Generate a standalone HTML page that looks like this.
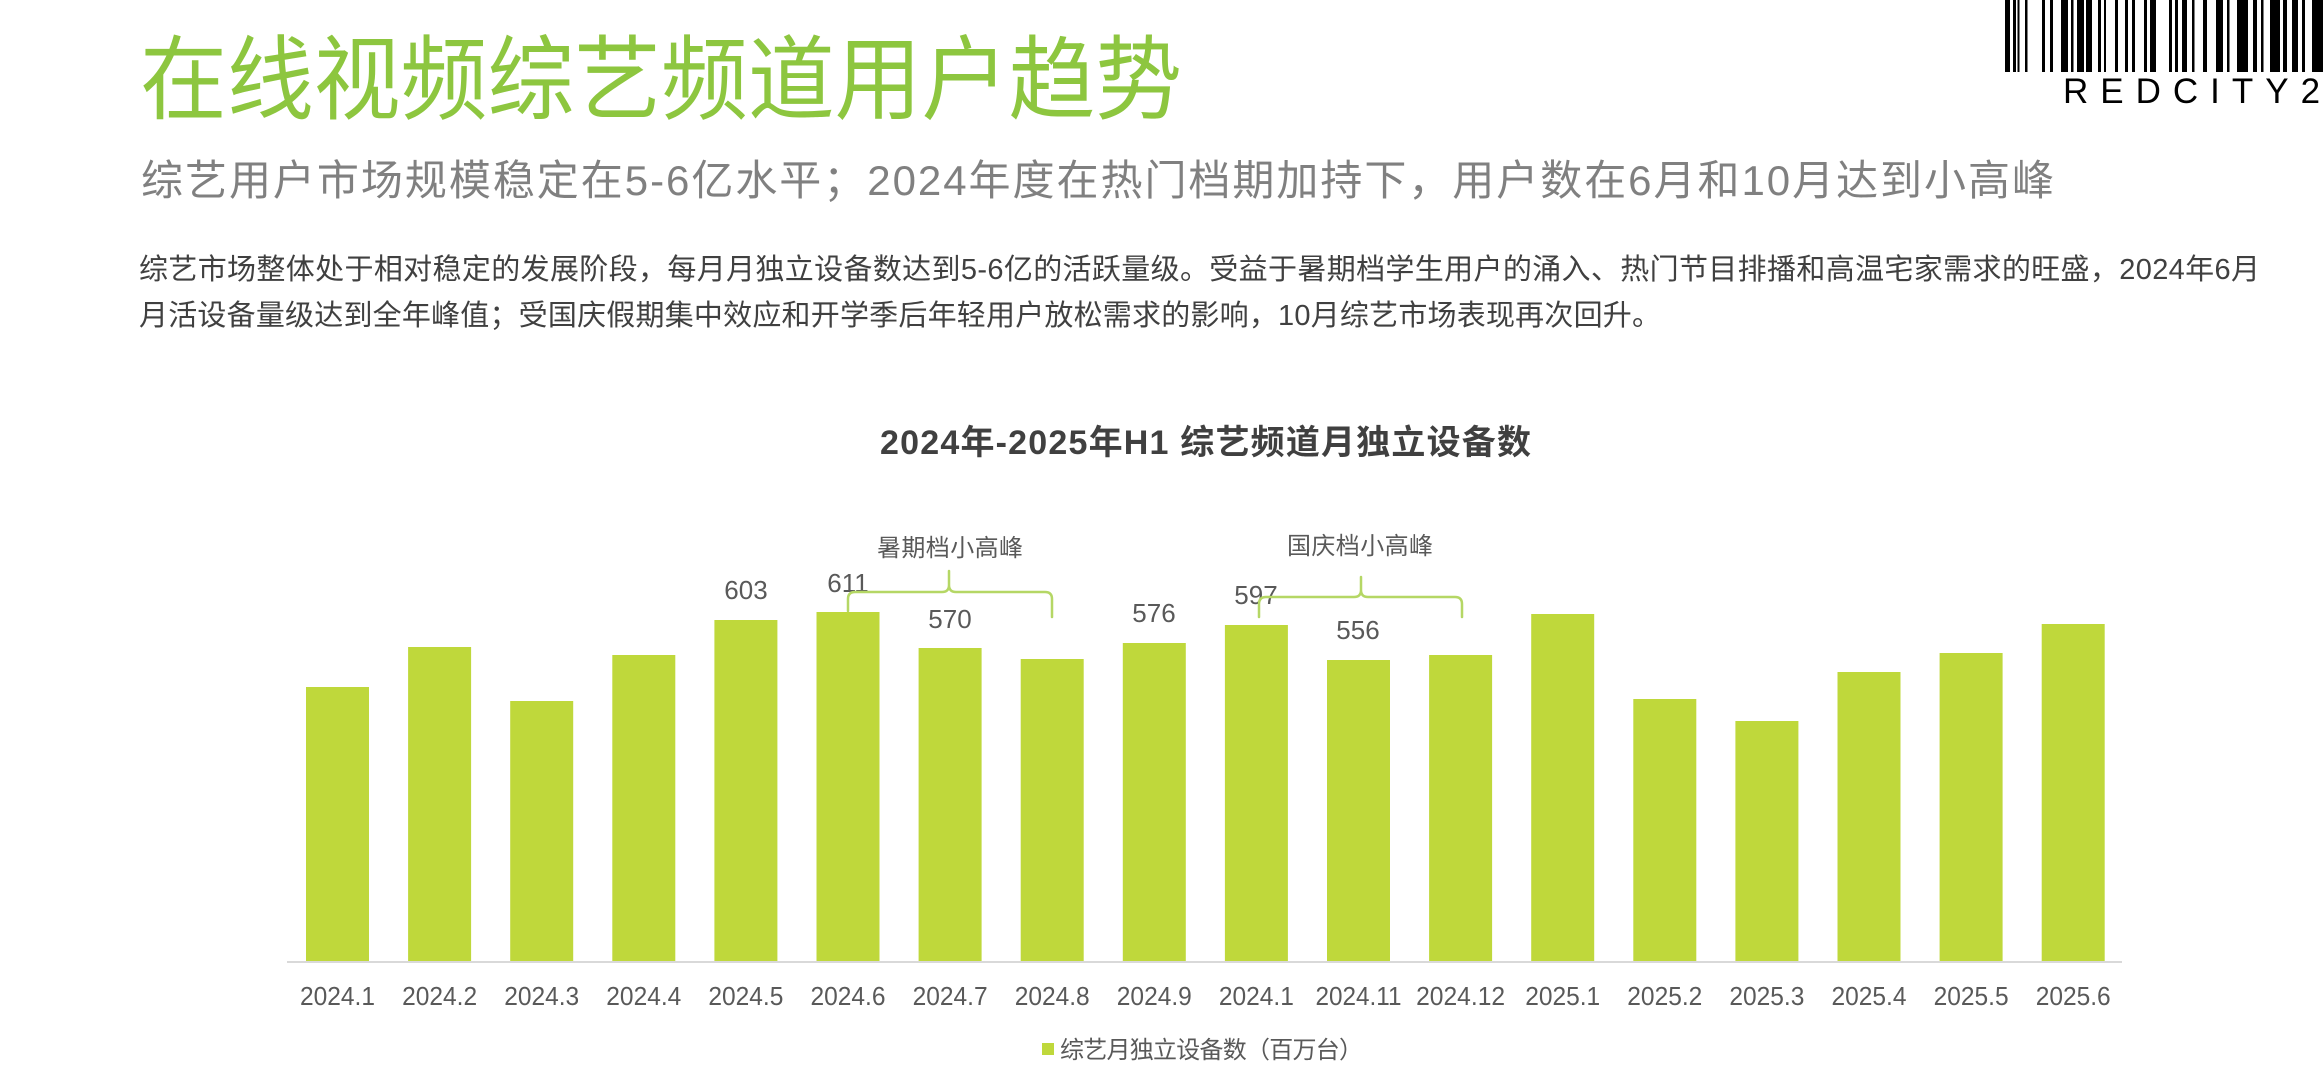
<!DOCTYPE html>
<html>
<head>
<meta charset="utf-8">
<style>
  html, body { margin: 0; padding: 0; background: #ffffff; }
  body { width: 2323px; height: 1080px; overflow: hidden; }
  svg { display: block; }
  .cjk { font-family: "Liberation Sans", "Noto Sans CJK SC", sans-serif; }
</style>
</head>
<body>
<svg width="2323" height="1080" viewBox="0 0 2323 1080" xmlns="http://www.w3.org/2000/svg">
  <rect x="0" y="0" width="2323" height="1080" fill="#ffffff"/>

  <!-- Title -->
  <text class="cjk" x="140" y="112" font-size="92" fill="#8DC63F" textLength="1042" lengthAdjust="spacingAndGlyphs">在线视频综艺频道用户趋势</text>

  <!-- Subtitle -->
  <text class="cjk" x="141" y="195" font-size="42" fill="#808080" textLength="1913" lengthAdjust="spacing">综艺用户市场规模稳定在5-6亿水平；2024年度在热门档期加持下，用户数在6月和10月达到小高峰</text>

  <!-- Body -->
  <text class="cjk" x="139" y="279" font-size="29" fill="#404040" textLength="2121" lengthAdjust="spacing">综艺市场整体处于相对稳定的发展阶段，每月月独立设备数达到5-6亿的活跃量级。受益于暑期档学生用户的涌入、热门节目排播和高温宅家需求的旺盛，2024年6月</text>
  <text class="cjk" x="139" y="325" font-size="29" fill="#404040" textLength="1522" lengthAdjust="spacing">月活设备量级达到全年峰值；受国庆假期集中效应和开学季后年轻用户放松需求的影响，10月综艺市场表现再次回升。</text>

  <!-- Barcode -->
  <g fill="#000000">
    <rect x="2005" y="0" width="5" height="72"/>
    <rect x="2013" y="0" width="3" height="72"/>
    <rect x="2017.5" y="0" width="2" height="72"/>
    <rect x="2025" y="0" width="2.5" height="72"/>
    <rect x="2042" y="0" width="3" height="72"/>
    <rect x="2050" y="0" width="3" height="72"/>
    <rect x="2061" y="0" width="7" height="72"/>
    <rect x="2071" y="0" width="2.5" height="72"/>
    <rect x="2077" y="0" width="7" height="72"/>
    <rect x="2086" y="0" width="6" height="72"/>
    <rect x="2098" y="0" width="3" height="72"/>
    <rect x="2104" y="0" width="2" height="72"/>
    <rect x="2115" y="0" width="3" height="72"/>
    <rect x="2125" y="0" width="3" height="72"/>
    <rect x="2132" y="0" width="3" height="72"/>
    <rect x="2144" y="0" width="3" height="72"/>
    <rect x="2150" y="0" width="6" height="72"/>
    <rect x="2169" y="0" width="3" height="72"/>
    <rect x="2175" y="0" width="3" height="72"/>
    <rect x="2182" y="0" width="5" height="72"/>
    <rect x="2192" y="0" width="2.5" height="72"/>
    <rect x="2203" y="0" width="4" height="72"/>
    <rect x="2216" y="0" width="7" height="72"/>
    <rect x="2227" y="0" width="2.5" height="72"/>
    <rect x="2237" y="0" width="11" height="72"/>
    <rect x="2253" y="0" width="4" height="72"/>
    <rect x="2261" y="0" width="2.5" height="72"/>
    <rect x="2270" y="0" width="10" height="72"/>
    <rect x="2283" y="0" width="4" height="72"/>
    <rect x="2292" y="0" width="6" height="72"/>
    <rect x="2302" y="0" width="3" height="72"/>
    <rect x="2312" y="0" width="11" height="72"/>
  </g>
  <text x="2063" y="103" font-family="Liberation Sans, sans-serif" font-size="35" fill="#000000" letter-spacing="12">REDCITY2</text>

  <!-- Chart title -->
  <text class="cjk" x="880" y="454" font-size="34" font-weight="bold" fill="#404040" textLength="651" lengthAdjust="spacing">2024年-2025年H1 综艺频道月独立设备数</text>

  <!-- Bars -->
  <g fill="#BFD83B">
    <rect x="306.0" y="687" width="63" height="274"/>
    <rect x="408.1" y="647" width="63" height="314"/>
    <rect x="510.2" y="701" width="63" height="260"/>
    <rect x="612.3" y="655" width="63" height="306"/>
    <rect x="714.4" y="620" width="63" height="341"/>
    <rect x="816.5" y="612" width="63" height="349"/>
    <rect x="918.6" y="648" width="63" height="313"/>
    <rect x="1020.7" y="659" width="63" height="302"/>
    <rect x="1122.8" y="643" width="63" height="318"/>
    <rect x="1224.9" y="625" width="63" height="336"/>
    <rect x="1327.0" y="660" width="63" height="301"/>
    <rect x="1429.1" y="655" width="63" height="306"/>
    <rect x="1531.2" y="614" width="63" height="347"/>
    <rect x="1633.3" y="699" width="63" height="262"/>
    <rect x="1735.4" y="721" width="63" height="240"/>
    <rect x="1837.5" y="672" width="63" height="289"/>
    <rect x="1939.6" y="653" width="63" height="308"/>
    <rect x="2041.7" y="624" width="63" height="337"/>
  </g>

  <!-- Axis line -->
  <line x1="287" y1="962" x2="2122" y2="962" stroke="#D9D9D9" stroke-width="2"/>

  <!-- Value labels -->
  <g font-family="Liberation Sans, sans-serif" font-size="26" fill="#595959" text-anchor="middle">
    <text x="746" y="599">603</text>
    <text x="848" y="592">611</text>
    <text x="950" y="628">570</text>
    <text x="1154" y="622">576</text>
    <text x="1256" y="604">597</text>
    <text x="1358" y="639">556</text>
  </g>

  <!-- Annotation brackets -->
  <g fill="none" stroke="#B5D765" stroke-width="2.5" stroke-linecap="round" stroke-linejoin="round">
    <path d="M848,611 L848,599 Q848,592 855,592 L942,592 Q949,592 949,585 L949,571 M949,585 Q949,592 956,592 L1045,592 Q1052,592 1052,599 L1052,617"/>
    <path d="M1259,617 L1259,604 Q1259,597 1266,597 L1354,597 Q1361,597 1361,590 L1361,577 M1361,590 Q1361,597 1368,597 L1455,597 Q1462,597 1462,604 L1462,617"/>
  </g>
  <text class="cjk" x="877" y="556" font-size="24" fill="#595959" textLength="146" lengthAdjust="spacing">暑期档小高峰</text>
  <text class="cjk" x="1287" y="554" font-size="24" fill="#595959" textLength="146" lengthAdjust="spacing">国庆档小高峰</text>

  <!-- X-axis labels -->
  <g font-family="Liberation Sans, sans-serif" font-size="26" fill="#595959" text-anchor="middle">
    <text x="337.5" y="1005" textLength="75" lengthAdjust="spacingAndGlyphs">2024.1</text>
    <text x="439.6" y="1005" textLength="75" lengthAdjust="spacingAndGlyphs">2024.2</text>
    <text x="541.7" y="1005" textLength="75" lengthAdjust="spacingAndGlyphs">2024.3</text>
    <text x="643.8" y="1005" textLength="75" lengthAdjust="spacingAndGlyphs">2024.4</text>
    <text x="745.9" y="1005" textLength="75" lengthAdjust="spacingAndGlyphs">2024.5</text>
    <text x="848.0" y="1005" textLength="75" lengthAdjust="spacingAndGlyphs">2024.6</text>
    <text x="950.1" y="1005" textLength="75" lengthAdjust="spacingAndGlyphs">2024.7</text>
    <text x="1052.2" y="1005" textLength="75" lengthAdjust="spacingAndGlyphs">2024.8</text>
    <text x="1154.3" y="1005" textLength="75" lengthAdjust="spacingAndGlyphs">2024.9</text>
    <text x="1256.4" y="1005" textLength="75" lengthAdjust="spacingAndGlyphs">2024.1</text>
    <text x="1358.5" y="1005" textLength="86" lengthAdjust="spacingAndGlyphs">2024.11</text>
    <text x="1460.6" y="1005" textLength="89" lengthAdjust="spacingAndGlyphs">2024.12</text>
    <text x="1562.7" y="1005" textLength="75" lengthAdjust="spacingAndGlyphs">2025.1</text>
    <text x="1664.8" y="1005" textLength="75" lengthAdjust="spacingAndGlyphs">2025.2</text>
    <text x="1766.9" y="1005" textLength="75" lengthAdjust="spacingAndGlyphs">2025.3</text>
    <text x="1869.0" y="1005" textLength="75" lengthAdjust="spacingAndGlyphs">2025.4</text>
    <text x="1971.1" y="1005" textLength="75" lengthAdjust="spacingAndGlyphs">2025.5</text>
    <text x="2073.2" y="1005" textLength="75" lengthAdjust="spacingAndGlyphs">2025.6</text>
  </g>

  <!-- Legend -->
  <rect x="1042" y="1043" width="12" height="12" fill="#BFD83B"/>
  <text class="cjk" x="1060" y="1058" font-size="24" fill="#595959" textLength="303" lengthAdjust="spacing">综艺月独立设备数（百万台）</text>
</svg>
</body>
</html>
